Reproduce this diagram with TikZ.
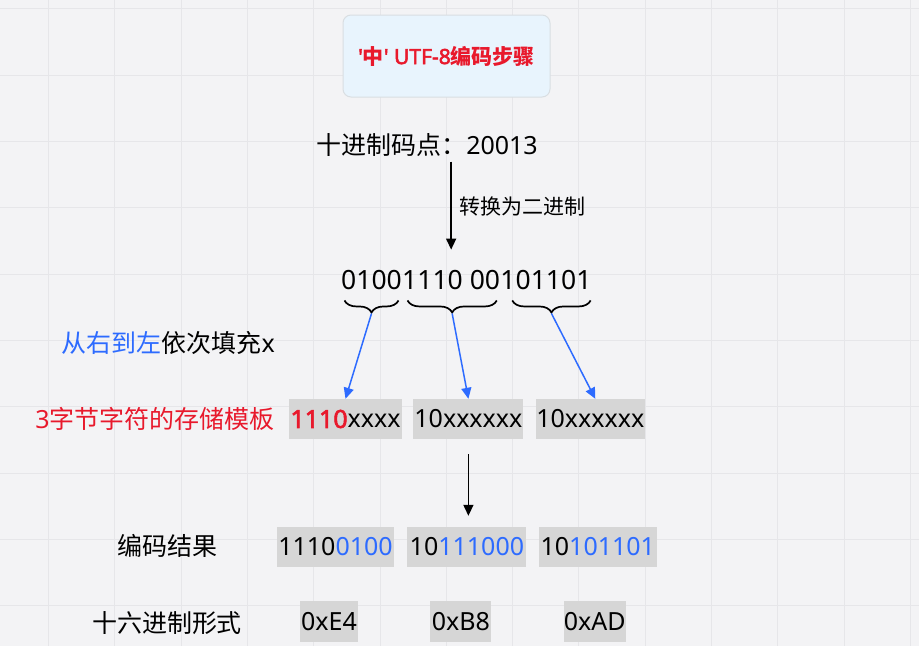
\documentclass[tikz,border=0pt]{standalone}
\usepackage{fontspec}
\setmainfont{Noto Sans}[Ligatures=TeXOff, BoldFont={Noto Sans}, BoldFeatures={FakeBold=2.5}]
\newfontfamily\cjkfont{Noto Sans CJK SC}
\usetikzlibrary{positioning}
\usetikzlibrary{arrows.meta}
\usetikzlibrary{decorations.pathreplacing}

\definecolor{bgcol}{HTML}{F3F3F5}
\definecolor{gridcol}{HTML}{E6E6E9}
\definecolor{boxgray}{HTML}{D6D6D6}
\definecolor{titlefill}{HTML}{E8F4FD}
\definecolor{titleline}{HTML}{D9DEE2}
\definecolor{codered}{HTML}{E8192C}
\definecolor{codeblue}{HTML}{2D6BFF}

\tikzset{
    gridline/.style={gridcol, line width=0.9pt},
    titlebox/.style={fill=titlefill, draw=titleline, line width=1pt, rounded corners=8pt,
        minimum width=207pt, minimum height=82pt, text=codered, font=\fontsize{21}{25}\selectfont},
    txt/.style={inner sep=0pt, font=\fontsize{25}{30}\selectfont},
    note/.style={inner sep=0pt, font=\fontsize{21}{25}\selectfont},
    bits/.style={inner sep=0pt, font=\fontsize{26.5}{31}\selectfont},
    cell/.style={fill=boxgray, inner sep=0pt, minimum height=40pt, font=\fontsize{25}{30}\selectfont},
    arr/.style={-{Triangle[length=11pt,width=10pt]}, line width=1.5pt},
    bluearr/.style={arr, codeblue},
    brace/.style={decorate, decoration={brace, mirror, amplitude=12pt}, line width=1.7pt}
}

\begin{document}
\begin{tikzpicture}[x=1pt,y=-1pt]
    \useasboundingbox (0,0) rectangle (919,646);
    \fill[bgcol] (0,0) rectangle (919,646);
    %Grid
    \foreach \i in {0,...,13}
        \draw[gridline] (48.5+66.3*\i,0) -- (48.5+66.3*\i,646);
    \foreach \j in {0,...,9}
        \draw[gridline] (0,8.9+66.3*\j) -- (919,8.9+66.3*\j);

    %Title
    \node[titlebox] (title) at (446.5,56) {\bfseries '{\cjkfont 中}' UTF-8{\cjkfont 编码步骤}};

    %Code point and binary
    \node[txt] (codepoint) at (427,145) {{\cjkfont 十进制码点：}20013};
    \node[bits, anchor=base west] (bitsA) at (341,289) {0100};
    \node[bits, right=0pt of bitsA] (bitsB) {1110 00};
    \node[bits, right=0pt of bitsB] (bitsC) {101101};
    \draw[arr, shorten <=5pt, shorten >=20pt] (codepoint.south -| bitsB.north) -- (bitsB.north)
        node[note, pos=0.44, right=8pt] {\cjkfont 转换为二进制};

    %Braces
    \draw[brace] ([xshift=3.5pt,yshift=-11pt]bitsA.south west) -- ([xshift=-3.5pt,yshift=-11pt]bitsA.south east)
        coordinate[midway, yshift=-13pt] (tipA);
    \draw[brace] ([xshift=5.5pt,yshift=-11pt]bitsB.south west) -- ([xshift=-3.5pt,yshift=-11pt]bitsB.south east)
        coordinate[midway, yshift=-13pt] (tipB);
    \draw[brace] ([xshift=12pt,yshift=-11pt]bitsC.south west) -- ([xshift=-1pt,yshift=-11pt]bitsC.south east)
        coordinate[midway, yshift=-13pt] (tipC);

    %Template
    \node[cell, minimum width=113pt] (tplA) at (345.5,419) {\textcolor{codered}{\bfseries 1110}xxxx};
    \node[cell, minimum width=110pt, right=11pt of tplA] (tplB) {10xxxxxx};
    \node[cell, minimum width=109pt, right=12pt of tplB] (tplC) {10xxxxxx};
    \node[txt, text=codered, left=14pt of tplA] (tmpl) {3{\cjkfont 字节字符的存储模板}};
    \node[txt, anchor=east] (fillnote) at (275,343) {{\cjkfont\textcolor{codeblue}{从右到左}依次填充}x};

    \draw[bluearr] (tipA) -- (tplA.north);
    \draw[bluearr] (tipB) -- (tplB.north);
    \draw[bluearr] (tipC) -- ([xshift=5pt]tplC.north);

    %Result
    \node[cell, minimum width=117pt] (resA) at (335.5,547) {1110\textcolor{codeblue}{0100}};
    \node[cell, minimum width=119pt, right=13pt of resA] (resB) {10\textcolor{codeblue}{111000}};
    \node[cell, minimum width=118pt, right=12pt of resB] (resC) {10\textcolor{codeblue}{101101}};
    \node[txt] (reslabel) at (167.5,546) {\cjkfont 编码结果};
    \draw[arr, shorten <=15pt, shorten >=11pt] (tplB.south) -- (tplB.south |- resB.north);

    %Hex
    \node[cell, minimum width=58pt, minimum height=41pt] (hexA) at (329,621.5) {0xE4};
    \node[cell, minimum width=61pt, minimum height=41pt, right=72pt of hexA] (hexB) {0xB8};
    \node[cell, minimum width=62pt, minimum height=41pt, right=72pt of hexB] (hexC) {0xAD};
    \node[txt] (hexlabel) at (167,623) {\cjkfont 十六进制形式};
\end{tikzpicture}
\end{document}
